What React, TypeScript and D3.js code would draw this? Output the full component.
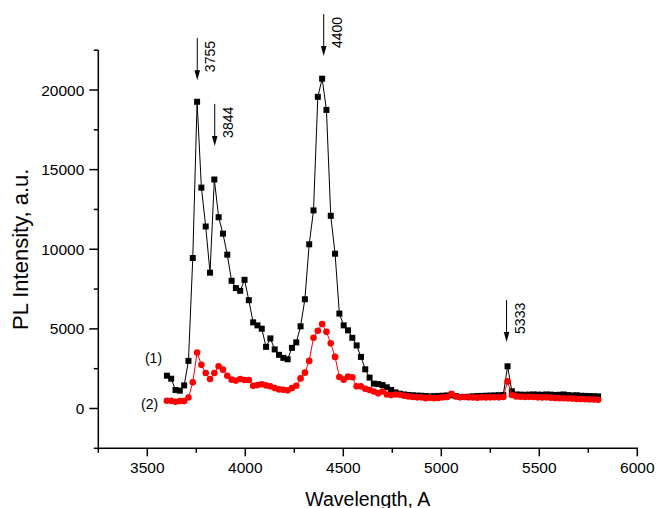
import React from "react";
import * as d3 from "d3";

const wavelengths: number[] = Array.from({ length: 101 }, (_, i) => 3600 + i * 22);

const series1: number[] = [
  2060, 1870, 1160, 1120, 1450, 2990, 9450, 19260, 13870, 11430,
  8530, 14380, 12010, 10980, 9660, 8020, 7560, 7390, 8080, 6800,
  5410, 5220, 5010, 3870, 4400, 3710, 3370, 3180, 3090, 3810,
  4150, 5160, 6860, 10310, 12440, 19570, 20710, 18750, 12100, 9720,
  5960, 5220, 4910, 4440, 3960, 3240, 2460, 1940, 1560, 1530,
  1470, 1330, 1160, 1010, 930, 880, 850, 830, 810, 800,
  780, 760, 770, 790, 800, 820, 830, 780, 730, 720,
  740, 760, 780, 790, 800, 810, 820, 830, 850, 2650,
  1080, 880, 870, 860, 870, 880, 870, 860, 880, 870,
  850, 860, 880, 840, 820, 830, 800, 790, 780, 770,
  760,
];

const series2: number[] = [
  490, 490, 420, 465, 465, 690, 1640, 3520, 2740, 2230,
  1850, 2230, 2650, 2440, 2060, 1810, 1750, 1850, 1790, 1790,
  1430, 1470, 1520, 1450, 1390, 1280, 1200, 1180, 1140, 1280,
  1430, 1890, 2250, 2990, 4440, 4880, 5300, 4820, 4090, 3240,
  1980, 1810, 2000, 1960, 1390, 1390, 1240, 1160, 1070, 950,
  1070, 880, 840, 880, 860, 800, 760, 720, 700, 700,
  650, 680, 640, 660, 700, 720, 920, 750, 700, 720,
  700, 690, 680, 700, 690, 700, 710, 700, 720, 1700,
  850, 760, 740, 720, 730, 720, 700, 690, 700, 680,
  660, 650, 640, 630, 620, 600, 590, 580, 560, 560,
  550,
];

const xMajorTicks: number[] = [3500, 4000, 4500, 5000, 5500, 6000];
const xMinorTicks: number[] = [3250, 3750, 4250, 4750, 5250, 5750];
const yMajorTicks: number[] = [0, 5000, 10000, 15000, 20000];
const yMinorTicks: number[] = [-2500, 2500, 7500, 12500, 17500, 22500];

const annotLabels: string[] = ["3755", "3844", "4400", "5333"];
const annotX: number[] = [3755, 3844, 4400, 5333];
const annotTip: number[] = [20620, 16490, 22130, 4180];

const seriesLabels: string[] = ["(1)", "(2)"];
const seriesLabelX: number[] = [3488, 3468];
const seriesLabelValue: number[] = [3140, 260];

const xTitle = "Wavelength, A";
const yTitle = "PL Intensity, a.u.";

const W = 656;
const H = 508;
const left = 98.3;
const right = 637.3;
const top = 50.2;
const bottom = 448.3;
const FONT = "Arial, 'Liberation Sans', sans-serif";

export default function App() {
  const x = d3.scaleLinear().domain([3250, 6000]).range([left, right]);
  const y = d3.scaleLinear().domain([-2500, 22500]).range([bottom, top]);

  const line = d3
    .line<number>()
    .x((_, i) => x(wavelengths[i]))
    .y((d) => y(d));

  const arrowLen = 42;

  return (
    <svg
      width={W}
      height={H}
      style={{ position: "absolute", left: 0, top: 0, background: "#fff" }}
      fontFamily={FONT}
    >
      {/* series 1 */}
      <path d={line(series1) || ""} fill="none" stroke="#000" strokeWidth={1} />
      {series1.map((v, i) => (
        <rect
          key={"s" + i}
          x={x(wavelengths[i]) - 3}
          y={y(v) - 3}
          width={6}
          height={6}
          fill="#000"
        />
      ))}
      {/* series 2 */}
      <path d={line(series2) || ""} fill="none" stroke="#ff0000" strokeWidth={1} />
      {series2.map((v, i) => (
        <circle key={"c" + i} cx={x(wavelengths[i])} cy={y(v)} r={3.3} fill="#ff0000" />
      ))}

      {/* axes */}
      <line x1={left} x2={left} y1={top} y2={bottom + 0.75} stroke="#000" strokeWidth={1.5} />
      <line x1={left - 0.75} x2={right + 0.75} y1={bottom} y2={bottom} stroke="#000" strokeWidth={1.5} />
      {xMajorTicks.map((t) => (
        <g key={"xm" + t}>
          <line x1={x(t)} x2={x(t)} y1={bottom} y2={bottom + 8} stroke="#000" strokeWidth={1.5} />
          <text x={x(t)} y={473} fontSize={15.5} textAnchor="middle" fill="#000">
            {t}
          </text>
        </g>
      ))}
      {xMinorTicks.map((t) => (
        <line key={"xn" + t} x1={x(t)} x2={x(t)} y1={bottom} y2={bottom + 4.5} stroke="#000" strokeWidth={1.5} />
      ))}
      {yMajorTicks.map((t) => (
        <g key={"ym" + t}>
          <line x1={left - 9} x2={left} y1={y(t)} y2={y(t)} stroke="#000" strokeWidth={1.5} />
          <text x={left - 14} y={y(t) + 5.5} fontSize={15.5} textAnchor="end" fill="#000">
            {t}
          </text>
        </g>
      ))}
      {yMinorTicks.map((t) => (
        <line key={"yn" + t} x1={left - 4.5} x2={left} y1={y(t)} y2={y(t)} stroke="#000" strokeWidth={1.5} />
      ))}

      {/* titles */}
      <text x={(left + right) / 2} y={506} fontSize={19.5} textAnchor="middle" fill="#000">
        {xTitle}
      </text>
      <text
        transform={`translate(28,${(top + bottom) / 2}) rotate(-90)`}
        fontSize={22}
        textAnchor="middle"
        fill="#000"
      >
        {yTitle}
      </text>

      {/* annotations */}
      {annotLabels.map((lab, i) => {
        const ax = x(annotX[i]);
        const tip = y(annotTip[i]);
        return (
          <g key={"a" + i}>
            <line x1={ax} x2={ax} y1={tip - arrowLen} y2={tip - 8} stroke="#000" strokeWidth={1} />
            <path d={`M${ax - 2.8},${tip - 10} L${ax + 2.8},${tip - 10} L${ax},${tip} Z`} fill="#000" />
            <text
              transform={`translate(${ax + 18},${tip - 8}) rotate(-90)`}
              fontSize={14}
              fill="#000"
            >
              {lab}
            </text>
          </g>
        );
      })}

      {/* series labels */}
      {seriesLabels.map((lab, i) => (
        <text
          key={"l" + i}
          x={x(seriesLabelX[i])}
          y={y(seriesLabelValue[i]) + 5}
          fontSize={14}
          fill="#000"
        >
          {lab}
        </text>
      ))}
    </svg>
  );
}
